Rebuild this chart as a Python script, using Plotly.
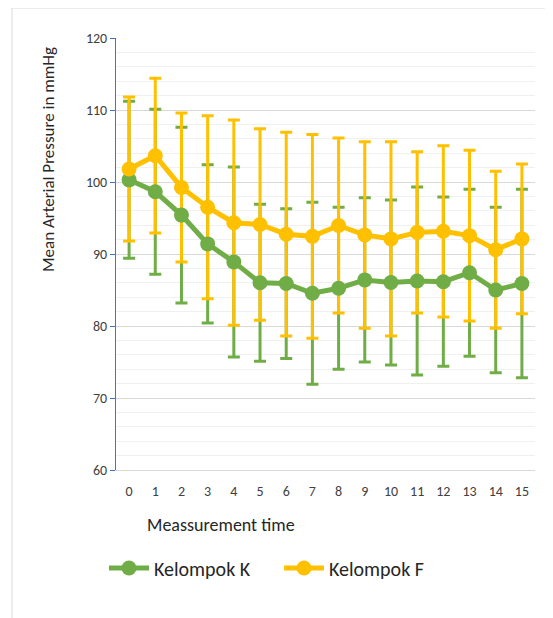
import plotly.graph_objects as go

time_points = list(range(16))
tick_labels = [str(t) for t in time_points]

k_mean = [100.3, 98.65, 95.4, 91.4, 88.9, 86.0, 85.9, 84.55, 85.25, 86.4, 86.05, 86.25, 86.15, 87.4, 85.0, 85.9]
k_sd = [10.9, 11.45, 12.2, 11.0, 13.2, 10.9, 10.4, 12.65, 11.25, 11.4, 11.45, 13.05, 11.75, 11.6, 11.5, 13.1]

f_mean = [101.8, 103.65, 99.25, 96.5, 94.35, 94.1, 92.75, 92.45, 93.95, 92.65, 92.1, 93.0, 93.15, 92.55, 90.6, 92.1]
f_sd = [10.0, 10.75, 10.35, 12.7, 14.25, 13.3, 14.15, 14.15, 12.15, 12.95, 13.5, 11.2, 11.9, 11.85, 10.9, 10.4]

green = "#70AD47"
yellow = "#FFC000"
font_family = "Calibri, Carlito, Lato, sans-serif"

fig = go.Figure()

# error bars (drawn first, beneath lines)
for mean, sd, col in [(k_mean, k_sd, green), (f_mean, f_sd, yellow)]:
    fig.add_trace(go.Scatter(
        x=time_points, y=mean, mode="markers",
        marker=dict(size=0.1, color=col, opacity=0),
        error_y=dict(type="data", array=sd, visible=True, color=col, thickness=3, width=6),
        showlegend=False, hoverinfo="skip",
    ))

fig.add_trace(go.Scatter(
    x=time_points, y=k_mean, mode="lines+markers", name="Kelompok K",
    line=dict(color=green, width=5), marker=dict(color=green, size=15),
))
fig.add_trace(go.Scatter(
    x=time_points, y=f_mean, mode="lines+markers", name="Kelompok F",
    line=dict(color=yellow, width=5), marker=dict(color=yellow, size=15),
))

OFF = 8  # page body margin
W, H = 545, 610
L, T = 116 - OFF, 38 - OFF
R = W - (535 - OFF)
B = H - (470 - OFF)
pw, ph = W - L - R, H - T - B

def px_x(x):
    return (x - OFF - L) / pw

def px_y(y):
    return 1 - (y - OFF - T) / ph

fig.update_layout(
    width=W, height=H,
    margin=dict(l=L, r=R, t=T, b=B),
    paper_bgcolor="white", plot_bgcolor="white",
    font=dict(family=font_family, color="#595959", size=14),
    showlegend=True,
    legend=dict(
        orientation="h", x=px_x(104), y=px_y(568), xanchor="left", yanchor="middle",
        font=dict(size=20, color="#262626", family=font_family),
        itemwidth=40, bgcolor="rgba(0,0,0,0)",
        entrywidth=120, entrywidthmode="pixels",
    ),
    xaxis=dict(
        range=[-0.5, 15.5], tickmode="array", tickvals=time_points, ticktext=tick_labels,
        showgrid=False, zeroline=False, showline=True, linecolor="#d9d9d9", linewidth=1,
        ticks="", tickfont=dict(size=14, color="#404040"), ticklabelstandoff=8,
    ),
    yaxis=dict(
        range=[60, 120], tickmode="array", tickvals=[60, 70, 80, 90, 100, 110, 120],
        showgrid=True, gridcolor="#d9d9d9", gridwidth=1,
        minor=dict(dtick=2, showgrid=True, gridcolor="#f0f0f0", gridwidth=1),
        zeroline=False, showline=True, linecolor="#4472C4", linewidth=1,
        ticks="outside", ticklen=5, tickcolor="#4472C4",
        tickfont=dict(size=14, color="#404040"),
    ),
    shapes=[dict(
        type="rect", xref="paper", yref="paper",
        x0=px_x(12), x1=px_x(600), y0=px_y(700), y1=px_y(8),
        line=dict(color="#d9d9d9", width=1), fillcolor="rgba(0,0,0,0)", layer="below",
    )],
    annotations=[
        dict(text="Meassurement time", xref="paper", yref="paper",
             x=px_x(221), y=px_y(525), xanchor="center", yanchor="middle",
             showarrow=False, font=dict(size=18, color="#262626", family=font_family)),
        dict(text="Mean Arterial Pressure in mmHg", xref="paper", yref="paper",
             x=px_x(48), y=px_y(160), xanchor="center", yanchor="middle", textangle=-90,
             showarrow=False, font=dict(size=17, color="#262626", family=font_family)),
    ],
)

fig.write_html("out.html")
